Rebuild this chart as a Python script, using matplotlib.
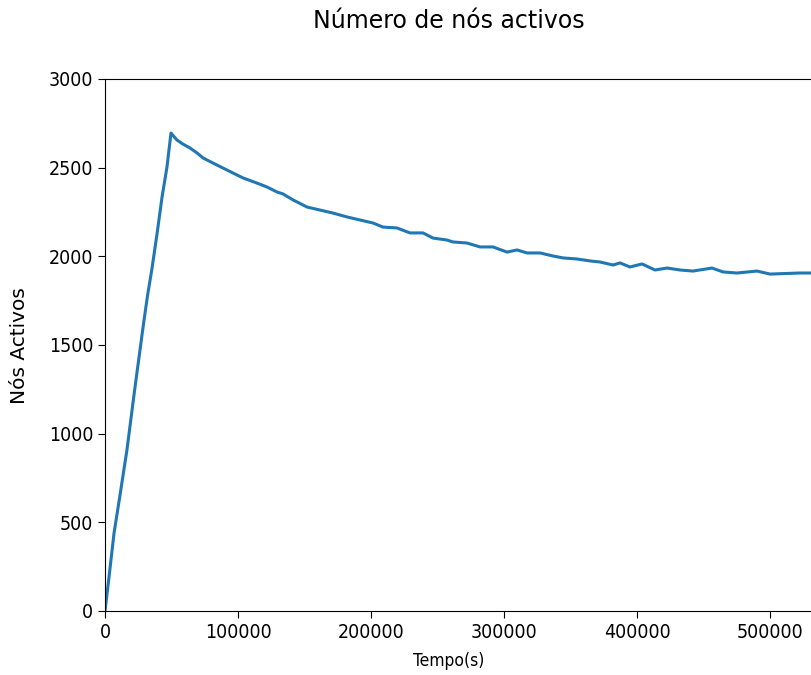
import matplotlib
matplotlib.use('Agg')
import matplotlib.pyplot as plt

# tempo (s) e número de nós activos
tempo = [0, 3000, 6800, 11000, 16500, 22000, 28600, 32000, 35300, 39000, 42900, 46600,
         49600, 54100, 58600, 63900, 69200, 73700, 81200, 88700, 96200, 103800,
         114300, 121800, 129300, 133800, 141400, 151900, 161700, 171400, 182000,
         191700, 201500, 209000, 219500, 229300, 239100, 246600, 257100, 261700,
         272200, 282000, 291700, 302300, 309800, 317300, 327100, 336800, 344400,
         354900, 364700, 372200, 382000, 387200, 394700, 403800, 413500, 422600,
         432300, 442100, 456400, 464700, 475200, 490200, 500000, 522600, 530800,
         540000]
activos = [0, 190, 440, 640, 908, 1230, 1600, 1780, 1930, 2120, 2335, 2504,
           2695, 2656, 2633, 2611, 2583, 2555, 2526, 2498, 2470, 2442,
           2413, 2391, 2363, 2352, 2318, 2278, 2261, 2244, 2222,
           2205, 2188, 2165, 2160, 2132, 2132, 2103, 2092, 2081,
           2075, 2053, 2053, 2024, 2036, 2019, 2019, 2002, 1991,
           1985, 1974, 1968, 1951, 1963, 1940, 1957, 1923, 1934,
           1923, 1917, 1934, 1912, 1906, 1917, 1900, 1906, 1906,
           1905]

fig = plt.figure(figsize=(8.11, 6.75), dpi=100)
ax = fig.add_axes([105 / 811, 64 / 675, 775 / 811, 532 / 675])
ax.plot(tempo, activos, color='#1f77b4', linewidth=2.2)

ax.set_xlim(0, 582700)
ax.set_ylim(0, 3000)
ax.set_xticks([0, 100000, 200000, 300000, 400000, 500000])
ax.set_yticks([0, 500, 1000, 1500, 2000, 2500, 3000])
ax.tick_params(axis='both', which='major', length=5)
for lbl in ax.get_xticklabels() + ax.get_yticklabels():
    lbl.set_fontsize(14)
    lbl.set_fontstretch('condensed')

fig.text(449 / 811, 1 - 21 / 675, 'Número de nós activos', fontsize=17,
         ha='center', va='center')
fig.text(449 / 811, 1 - 661 / 675, 'Tempo(s)', fontsize=12.5,
         fontstretch='condensed', ha='center', va='center')
fig.text(20 / 811, 1 - 346 / 675, 'Nós Activos', fontsize=14.5,
         ha='center', va='center', rotation=90)

fig.savefig('out.png', dpi=100)
